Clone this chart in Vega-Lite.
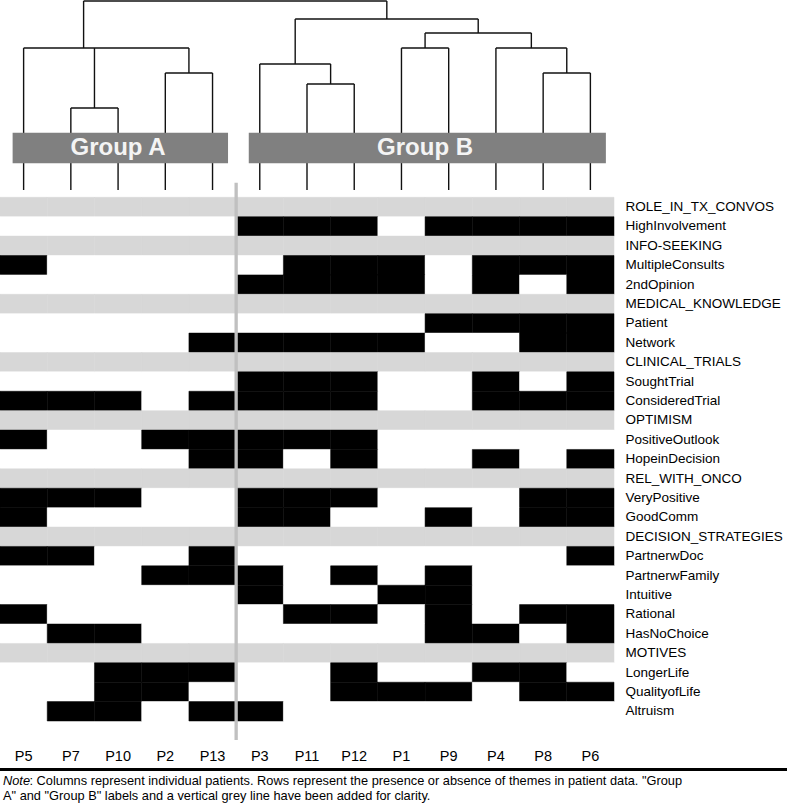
{
"$schema": "https://vega.github.io/schema/vega-lite/v6.json",
"width": 787, "height": 812,
"autosize": {"type": "none"},
"padding": 0,
"background": "white",
"config": {"view": {"stroke": null}, "font": "Liberation Sans"},
"datasets": {
"cells": [
{"p":"P5","t":"ROLE_IN_TX_CONVOS","v":"T"},{"p":"P7","t":"ROLE_IN_TX_CONVOS","v":"T"},{"p":"P10","t":"ROLE_IN_TX_CONVOS","v":"T"},{"p":"P2","t":"ROLE_IN_TX_CONVOS","v":"T"},{"p":"P13","t":"ROLE_IN_TX_CONVOS","v":"T"},{"p":"P3","t":"ROLE_IN_TX_CONVOS","v":"T"},{"p":"P11","t":"ROLE_IN_TX_CONVOS","v":"T"},{"p":"P12","t":"ROLE_IN_TX_CONVOS","v":"T"},{"p":"P1","t":"ROLE_IN_TX_CONVOS","v":"T"},{"p":"P9","t":"ROLE_IN_TX_CONVOS","v":"T"},{"p":"P4","t":"ROLE_IN_TX_CONVOS","v":"T"},{"p":"P8","t":"ROLE_IN_TX_CONVOS","v":"T"},{"p":"P6","t":"ROLE_IN_TX_CONVOS","v":"T"},
{"p":"P5","t":"HighInvolvement","v":"N"},{"p":"P7","t":"HighInvolvement","v":"N"},{"p":"P10","t":"HighInvolvement","v":"N"},{"p":"P2","t":"HighInvolvement","v":"N"},{"p":"P13","t":"HighInvolvement","v":"N"},{"p":"P3","t":"HighInvolvement","v":"Y"},{"p":"P11","t":"HighInvolvement","v":"Y"},{"p":"P12","t":"HighInvolvement","v":"Y"},{"p":"P1","t":"HighInvolvement","v":"N"},{"p":"P9","t":"HighInvolvement","v":"Y"},{"p":"P4","t":"HighInvolvement","v":"Y"},{"p":"P8","t":"HighInvolvement","v":"Y"},{"p":"P6","t":"HighInvolvement","v":"Y"},
{"p":"P5","t":"INFO-SEEKING","v":"T"},{"p":"P7","t":"INFO-SEEKING","v":"T"},{"p":"P10","t":"INFO-SEEKING","v":"T"},{"p":"P2","t":"INFO-SEEKING","v":"T"},{"p":"P13","t":"INFO-SEEKING","v":"T"},{"p":"P3","t":"INFO-SEEKING","v":"T"},{"p":"P11","t":"INFO-SEEKING","v":"T"},{"p":"P12","t":"INFO-SEEKING","v":"T"},{"p":"P1","t":"INFO-SEEKING","v":"T"},{"p":"P9","t":"INFO-SEEKING","v":"T"},{"p":"P4","t":"INFO-SEEKING","v":"T"},{"p":"P8","t":"INFO-SEEKING","v":"T"},{"p":"P6","t":"INFO-SEEKING","v":"T"},
{"p":"P5","t":"MultipleConsults","v":"Y"},{"p":"P7","t":"MultipleConsults","v":"N"},{"p":"P10","t":"MultipleConsults","v":"N"},{"p":"P2","t":"MultipleConsults","v":"N"},{"p":"P13","t":"MultipleConsults","v":"N"},{"p":"P3","t":"MultipleConsults","v":"N"},{"p":"P11","t":"MultipleConsults","v":"Y"},{"p":"P12","t":"MultipleConsults","v":"Y"},{"p":"P1","t":"MultipleConsults","v":"Y"},{"p":"P9","t":"MultipleConsults","v":"N"},{"p":"P4","t":"MultipleConsults","v":"Y"},{"p":"P8","t":"MultipleConsults","v":"Y"},{"p":"P6","t":"MultipleConsults","v":"Y"},
{"p":"P5","t":"2ndOpinion","v":"N"},{"p":"P7","t":"2ndOpinion","v":"N"},{"p":"P10","t":"2ndOpinion","v":"N"},{"p":"P2","t":"2ndOpinion","v":"N"},{"p":"P13","t":"2ndOpinion","v":"N"},{"p":"P3","t":"2ndOpinion","v":"Y"},{"p":"P11","t":"2ndOpinion","v":"Y"},{"p":"P12","t":"2ndOpinion","v":"Y"},{"p":"P1","t":"2ndOpinion","v":"Y"},{"p":"P9","t":"2ndOpinion","v":"N"},{"p":"P4","t":"2ndOpinion","v":"Y"},{"p":"P8","t":"2ndOpinion","v":"N"},{"p":"P6","t":"2ndOpinion","v":"Y"},
{"p":"P5","t":"MEDICAL_KNOWLEDGE","v":"T"},{"p":"P7","t":"MEDICAL_KNOWLEDGE","v":"T"},{"p":"P10","t":"MEDICAL_KNOWLEDGE","v":"T"},{"p":"P2","t":"MEDICAL_KNOWLEDGE","v":"T"},{"p":"P13","t":"MEDICAL_KNOWLEDGE","v":"T"},{"p":"P3","t":"MEDICAL_KNOWLEDGE","v":"T"},{"p":"P11","t":"MEDICAL_KNOWLEDGE","v":"T"},{"p":"P12","t":"MEDICAL_KNOWLEDGE","v":"T"},{"p":"P1","t":"MEDICAL_KNOWLEDGE","v":"T"},{"p":"P9","t":"MEDICAL_KNOWLEDGE","v":"T"},{"p":"P4","t":"MEDICAL_KNOWLEDGE","v":"T"},{"p":"P8","t":"MEDICAL_KNOWLEDGE","v":"T"},{"p":"P6","t":"MEDICAL_KNOWLEDGE","v":"T"},
{"p":"P5","t":"Patient","v":"N"},{"p":"P7","t":"Patient","v":"N"},{"p":"P10","t":"Patient","v":"N"},{"p":"P2","t":"Patient","v":"N"},{"p":"P13","t":"Patient","v":"N"},{"p":"P3","t":"Patient","v":"N"},{"p":"P11","t":"Patient","v":"N"},{"p":"P12","t":"Patient","v":"N"},{"p":"P1","t":"Patient","v":"N"},{"p":"P9","t":"Patient","v":"Y"},{"p":"P4","t":"Patient","v":"Y"},{"p":"P8","t":"Patient","v":"Y"},{"p":"P6","t":"Patient","v":"Y"},
{"p":"P5","t":"Network","v":"N"},{"p":"P7","t":"Network","v":"N"},{"p":"P10","t":"Network","v":"N"},{"p":"P2","t":"Network","v":"N"},{"p":"P13","t":"Network","v":"Y"},{"p":"P3","t":"Network","v":"Y"},{"p":"P11","t":"Network","v":"Y"},{"p":"P12","t":"Network","v":"Y"},{"p":"P1","t":"Network","v":"Y"},{"p":"P9","t":"Network","v":"N"},{"p":"P4","t":"Network","v":"N"},{"p":"P8","t":"Network","v":"Y"},{"p":"P6","t":"Network","v":"Y"},
{"p":"P5","t":"CLINICAL_TRIALS","v":"T"},{"p":"P7","t":"CLINICAL_TRIALS","v":"T"},{"p":"P10","t":"CLINICAL_TRIALS","v":"T"},{"p":"P2","t":"CLINICAL_TRIALS","v":"T"},{"p":"P13","t":"CLINICAL_TRIALS","v":"T"},{"p":"P3","t":"CLINICAL_TRIALS","v":"T"},{"p":"P11","t":"CLINICAL_TRIALS","v":"T"},{"p":"P12","t":"CLINICAL_TRIALS","v":"T"},{"p":"P1","t":"CLINICAL_TRIALS","v":"T"},{"p":"P9","t":"CLINICAL_TRIALS","v":"T"},{"p":"P4","t":"CLINICAL_TRIALS","v":"T"},{"p":"P8","t":"CLINICAL_TRIALS","v":"T"},{"p":"P6","t":"CLINICAL_TRIALS","v":"T"},
{"p":"P5","t":"SoughtTrial","v":"N"},{"p":"P7","t":"SoughtTrial","v":"N"},{"p":"P10","t":"SoughtTrial","v":"N"},{"p":"P2","t":"SoughtTrial","v":"N"},{"p":"P13","t":"SoughtTrial","v":"N"},{"p":"P3","t":"SoughtTrial","v":"Y"},{"p":"P11","t":"SoughtTrial","v":"Y"},{"p":"P12","t":"SoughtTrial","v":"Y"},{"p":"P1","t":"SoughtTrial","v":"N"},{"p":"P9","t":"SoughtTrial","v":"N"},{"p":"P4","t":"SoughtTrial","v":"Y"},{"p":"P8","t":"SoughtTrial","v":"N"},{"p":"P6","t":"SoughtTrial","v":"Y"},
{"p":"P5","t":"ConsideredTrial","v":"Y"},{"p":"P7","t":"ConsideredTrial","v":"Y"},{"p":"P10","t":"ConsideredTrial","v":"Y"},{"p":"P2","t":"ConsideredTrial","v":"N"},{"p":"P13","t":"ConsideredTrial","v":"Y"},{"p":"P3","t":"ConsideredTrial","v":"Y"},{"p":"P11","t":"ConsideredTrial","v":"Y"},{"p":"P12","t":"ConsideredTrial","v":"Y"},{"p":"P1","t":"ConsideredTrial","v":"N"},{"p":"P9","t":"ConsideredTrial","v":"N"},{"p":"P4","t":"ConsideredTrial","v":"Y"},{"p":"P8","t":"ConsideredTrial","v":"Y"},{"p":"P6","t":"ConsideredTrial","v":"Y"},
{"p":"P5","t":"OPTIMISM","v":"T"},{"p":"P7","t":"OPTIMISM","v":"T"},{"p":"P10","t":"OPTIMISM","v":"T"},{"p":"P2","t":"OPTIMISM","v":"T"},{"p":"P13","t":"OPTIMISM","v":"T"},{"p":"P3","t":"OPTIMISM","v":"T"},{"p":"P11","t":"OPTIMISM","v":"T"},{"p":"P12","t":"OPTIMISM","v":"T"},{"p":"P1","t":"OPTIMISM","v":"T"},{"p":"P9","t":"OPTIMISM","v":"T"},{"p":"P4","t":"OPTIMISM","v":"T"},{"p":"P8","t":"OPTIMISM","v":"T"},{"p":"P6","t":"OPTIMISM","v":"T"},
{"p":"P5","t":"PositiveOutlook","v":"Y"},{"p":"P7","t":"PositiveOutlook","v":"N"},{"p":"P10","t":"PositiveOutlook","v":"N"},{"p":"P2","t":"PositiveOutlook","v":"Y"},{"p":"P13","t":"PositiveOutlook","v":"Y"},{"p":"P3","t":"PositiveOutlook","v":"Y"},{"p":"P11","t":"PositiveOutlook","v":"Y"},{"p":"P12","t":"PositiveOutlook","v":"Y"},{"p":"P1","t":"PositiveOutlook","v":"N"},{"p":"P9","t":"PositiveOutlook","v":"N"},{"p":"P4","t":"PositiveOutlook","v":"N"},{"p":"P8","t":"PositiveOutlook","v":"N"},{"p":"P6","t":"PositiveOutlook","v":"N"},
{"p":"P5","t":"HopeinDecision","v":"N"},{"p":"P7","t":"HopeinDecision","v":"N"},{"p":"P10","t":"HopeinDecision","v":"N"},{"p":"P2","t":"HopeinDecision","v":"N"},{"p":"P13","t":"HopeinDecision","v":"Y"},{"p":"P3","t":"HopeinDecision","v":"Y"},{"p":"P11","t":"HopeinDecision","v":"N"},{"p":"P12","t":"HopeinDecision","v":"Y"},{"p":"P1","t":"HopeinDecision","v":"N"},{"p":"P9","t":"HopeinDecision","v":"N"},{"p":"P4","t":"HopeinDecision","v":"Y"},{"p":"P8","t":"HopeinDecision","v":"N"},{"p":"P6","t":"HopeinDecision","v":"Y"},
{"p":"P5","t":"REL_WITH_ONCO","v":"T"},{"p":"P7","t":"REL_WITH_ONCO","v":"T"},{"p":"P10","t":"REL_WITH_ONCO","v":"T"},{"p":"P2","t":"REL_WITH_ONCO","v":"T"},{"p":"P13","t":"REL_WITH_ONCO","v":"T"},{"p":"P3","t":"REL_WITH_ONCO","v":"T"},{"p":"P11","t":"REL_WITH_ONCO","v":"T"},{"p":"P12","t":"REL_WITH_ONCO","v":"T"},{"p":"P1","t":"REL_WITH_ONCO","v":"T"},{"p":"P9","t":"REL_WITH_ONCO","v":"T"},{"p":"P4","t":"REL_WITH_ONCO","v":"T"},{"p":"P8","t":"REL_WITH_ONCO","v":"T"},{"p":"P6","t":"REL_WITH_ONCO","v":"T"},
{"p":"P5","t":"VeryPositive","v":"Y"},{"p":"P7","t":"VeryPositive","v":"Y"},{"p":"P10","t":"VeryPositive","v":"Y"},{"p":"P2","t":"VeryPositive","v":"N"},{"p":"P13","t":"VeryPositive","v":"N"},{"p":"P3","t":"VeryPositive","v":"Y"},{"p":"P11","t":"VeryPositive","v":"Y"},{"p":"P12","t":"VeryPositive","v":"Y"},{"p":"P1","t":"VeryPositive","v":"N"},{"p":"P9","t":"VeryPositive","v":"N"},{"p":"P4","t":"VeryPositive","v":"N"},{"p":"P8","t":"VeryPositive","v":"Y"},{"p":"P6","t":"VeryPositive","v":"Y"},
{"p":"P5","t":"GoodComm","v":"Y"},{"p":"P7","t":"GoodComm","v":"N"},{"p":"P10","t":"GoodComm","v":"N"},{"p":"P2","t":"GoodComm","v":"N"},{"p":"P13","t":"GoodComm","v":"N"},{"p":"P3","t":"GoodComm","v":"Y"},{"p":"P11","t":"GoodComm","v":"Y"},{"p":"P12","t":"GoodComm","v":"N"},{"p":"P1","t":"GoodComm","v":"N"},{"p":"P9","t":"GoodComm","v":"Y"},{"p":"P4","t":"GoodComm","v":"N"},{"p":"P8","t":"GoodComm","v":"Y"},{"p":"P6","t":"GoodComm","v":"Y"},
{"p":"P5","t":"DECISION_STRATEGIES","v":"T"},{"p":"P7","t":"DECISION_STRATEGIES","v":"T"},{"p":"P10","t":"DECISION_STRATEGIES","v":"T"},{"p":"P2","t":"DECISION_STRATEGIES","v":"T"},{"p":"P13","t":"DECISION_STRATEGIES","v":"T"},{"p":"P3","t":"DECISION_STRATEGIES","v":"T"},{"p":"P11","t":"DECISION_STRATEGIES","v":"T"},{"p":"P12","t":"DECISION_STRATEGIES","v":"T"},{"p":"P1","t":"DECISION_STRATEGIES","v":"T"},{"p":"P9","t":"DECISION_STRATEGIES","v":"T"},{"p":"P4","t":"DECISION_STRATEGIES","v":"T"},{"p":"P8","t":"DECISION_STRATEGIES","v":"T"},{"p":"P6","t":"DECISION_STRATEGIES","v":"T"},
{"p":"P5","t":"PartnerwDoc","v":"Y"},{"p":"P7","t":"PartnerwDoc","v":"Y"},{"p":"P10","t":"PartnerwDoc","v":"N"},{"p":"P2","t":"PartnerwDoc","v":"N"},{"p":"P13","t":"PartnerwDoc","v":"Y"},{"p":"P3","t":"PartnerwDoc","v":"N"},{"p":"P11","t":"PartnerwDoc","v":"N"},{"p":"P12","t":"PartnerwDoc","v":"N"},{"p":"P1","t":"PartnerwDoc","v":"N"},{"p":"P9","t":"PartnerwDoc","v":"N"},{"p":"P4","t":"PartnerwDoc","v":"N"},{"p":"P8","t":"PartnerwDoc","v":"N"},{"p":"P6","t":"PartnerwDoc","v":"Y"},
{"p":"P5","t":"PartnerwFamily","v":"N"},{"p":"P7","t":"PartnerwFamily","v":"N"},{"p":"P10","t":"PartnerwFamily","v":"N"},{"p":"P2","t":"PartnerwFamily","v":"Y"},{"p":"P13","t":"PartnerwFamily","v":"Y"},{"p":"P3","t":"PartnerwFamily","v":"Y"},{"p":"P11","t":"PartnerwFamily","v":"N"},{"p":"P12","t":"PartnerwFamily","v":"Y"},{"p":"P1","t":"PartnerwFamily","v":"N"},{"p":"P9","t":"PartnerwFamily","v":"Y"},{"p":"P4","t":"PartnerwFamily","v":"N"},{"p":"P8","t":"PartnerwFamily","v":"N"},{"p":"P6","t":"PartnerwFamily","v":"N"},
{"p":"P5","t":"Intuitive","v":"N"},{"p":"P7","t":"Intuitive","v":"N"},{"p":"P10","t":"Intuitive","v":"N"},{"p":"P2","t":"Intuitive","v":"N"},{"p":"P13","t":"Intuitive","v":"N"},{"p":"P3","t":"Intuitive","v":"Y"},{"p":"P11","t":"Intuitive","v":"N"},{"p":"P12","t":"Intuitive","v":"N"},{"p":"P1","t":"Intuitive","v":"Y"},{"p":"P9","t":"Intuitive","v":"Y"},{"p":"P4","t":"Intuitive","v":"N"},{"p":"P8","t":"Intuitive","v":"N"},{"p":"P6","t":"Intuitive","v":"N"},
{"p":"P5","t":"Rational","v":"Y"},{"p":"P7","t":"Rational","v":"N"},{"p":"P10","t":"Rational","v":"N"},{"p":"P2","t":"Rational","v":"N"},{"p":"P13","t":"Rational","v":"N"},{"p":"P3","t":"Rational","v":"N"},{"p":"P11","t":"Rational","v":"Y"},{"p":"P12","t":"Rational","v":"Y"},{"p":"P1","t":"Rational","v":"N"},{"p":"P9","t":"Rational","v":"Y"},{"p":"P4","t":"Rational","v":"N"},{"p":"P8","t":"Rational","v":"Y"},{"p":"P6","t":"Rational","v":"Y"},
{"p":"P5","t":"HasNoChoice","v":"N"},{"p":"P7","t":"HasNoChoice","v":"Y"},{"p":"P10","t":"HasNoChoice","v":"Y"},{"p":"P2","t":"HasNoChoice","v":"N"},{"p":"P13","t":"HasNoChoice","v":"N"},{"p":"P3","t":"HasNoChoice","v":"N"},{"p":"P11","t":"HasNoChoice","v":"N"},{"p":"P12","t":"HasNoChoice","v":"N"},{"p":"P1","t":"HasNoChoice","v":"N"},{"p":"P9","t":"HasNoChoice","v":"Y"},{"p":"P4","t":"HasNoChoice","v":"Y"},{"p":"P8","t":"HasNoChoice","v":"N"},{"p":"P6","t":"HasNoChoice","v":"Y"},
{"p":"P5","t":"MOTIVES","v":"T"},{"p":"P7","t":"MOTIVES","v":"T"},{"p":"P10","t":"MOTIVES","v":"T"},{"p":"P2","t":"MOTIVES","v":"T"},{"p":"P13","t":"MOTIVES","v":"T"},{"p":"P3","t":"MOTIVES","v":"T"},{"p":"P11","t":"MOTIVES","v":"T"},{"p":"P12","t":"MOTIVES","v":"T"},{"p":"P1","t":"MOTIVES","v":"T"},{"p":"P9","t":"MOTIVES","v":"T"},{"p":"P4","t":"MOTIVES","v":"T"},{"p":"P8","t":"MOTIVES","v":"T"},{"p":"P6","t":"MOTIVES","v":"T"},
{"p":"P5","t":"LongerLife","v":"N"},{"p":"P7","t":"LongerLife","v":"N"},{"p":"P10","t":"LongerLife","v":"Y"},{"p":"P2","t":"LongerLife","v":"Y"},{"p":"P13","t":"LongerLife","v":"Y"},{"p":"P3","t":"LongerLife","v":"N"},{"p":"P11","t":"LongerLife","v":"N"},{"p":"P12","t":"LongerLife","v":"Y"},{"p":"P1","t":"LongerLife","v":"N"},{"p":"P9","t":"LongerLife","v":"N"},{"p":"P4","t":"LongerLife","v":"Y"},{"p":"P8","t":"LongerLife","v":"Y"},{"p":"P6","t":"LongerLife","v":"N"},
{"p":"P5","t":"QualityofLife","v":"N"},{"p":"P7","t":"QualityofLife","v":"N"},{"p":"P10","t":"QualityofLife","v":"Y"},{"p":"P2","t":"QualityofLife","v":"Y"},{"p":"P13","t":"QualityofLife","v":"N"},{"p":"P3","t":"QualityofLife","v":"N"},{"p":"P11","t":"QualityofLife","v":"N"},{"p":"P12","t":"QualityofLife","v":"Y"},{"p":"P1","t":"QualityofLife","v":"Y"},{"p":"P9","t":"QualityofLife","v":"Y"},{"p":"P4","t":"QualityofLife","v":"N"},{"p":"P8","t":"QualityofLife","v":"Y"},{"p":"P6","t":"QualityofLife","v":"Y"},
{"p":"P5","t":"Altruism","v":"N"},{"p":"P7","t":"Altruism","v":"Y"},{"p":"P10","t":"Altruism","v":"Y"},{"p":"P2","t":"Altruism","v":"N"},{"p":"P13","t":"Altruism","v":"Y"},{"p":"P3","t":"Altruism","v":"Y"},{"p":"P11","t":"Altruism","v":"N"},{"p":"P12","t":"Altruism","v":"N"},{"p":"P1","t":"Altruism","v":"N"},{"p":"P9","t":"Altruism","v":"N"},{"p":"P4","t":"Altruism","v":"N"},{"p":"P8","t":"Altruism","v":"N"},{"p":"P6","t":"Altruism","v":"N"}
],
"dendro": [
{"x1":1,"x2":1,"h1":0,"h2":7.51},{"x1":2,"x2":2,"h1":0,"h2":4.34},{"x1":3,"x2":3,"h1":0,"h2":4.34},{"x1":4,"x2":4,"h1":0,"h2":6.19},{"x1":5,"x2":5,"h1":0,"h2":6.19},
{"x1":6,"x2":6,"h1":0,"h2":6.67},{"x1":7,"x2":7,"h1":0,"h2":5.61},{"x1":8,"x2":8,"h1":0,"h2":5.61},{"x1":9,"x2":9,"h1":0,"h2":7.51},{"x1":10,"x2":10,"h1":0,"h2":7.51},
{"x1":11,"x2":11,"h1":0,"h2":7.51},{"x1":12,"x2":12,"h1":0,"h2":6.19},{"x1":13,"x2":13,"h1":0,"h2":6.19},
{"x1":2,"x2":3,"h1":4.34,"h2":4.34},{"x1":4,"x2":5,"h1":6.19,"h2":6.19},{"x1":7,"x2":8,"h1":5.61,"h2":5.61},{"x1":12,"x2":13,"h1":6.19,"h2":6.19},
{"x1":9,"x2":10,"h1":7.51,"h2":7.51},{"x1":11,"x2":12.5,"h1":7.51,"h2":7.51},{"x1":1,"x2":4.5,"h1":7.51,"h2":7.51},{"x1":6,"x2":7.5,"h1":6.67,"h2":6.67},
{"x1":9.5,"x2":11.75,"h1":8.31,"h2":8.31},{"x1":6.75,"x2":10.625,"h1":9.05,"h2":9.05},{"x1":2.27,"x2":8.69,"h1":10,"h2":10},
{"x1":2.5,"x2":2.5,"h1":4.34,"h2":7.51},{"x1":4.5,"x2":4.5,"h1":6.19,"h2":7.51},{"x1":7.5,"x2":7.5,"h1":5.61,"h2":6.67},{"x1":12.5,"x2":12.5,"h1":6.19,"h2":7.51},
{"x1":9.5,"x2":9.5,"h1":7.51,"h2":8.31},{"x1":11.75,"x2":11.75,"h1":7.51,"h2":8.31},{"x1":6.75,"x2":6.75,"h1":6.67,"h2":9.05},{"x1":10.625,"x2":10.625,"h1":8.31,"h2":9.05},
{"x1":2.27,"x2":2.27,"h1":7.51,"h2":10},{"x1":8.69,"x2":8.69,"h1":9.05,"h2":10}
],
"groups": [
{"group":"Group A","first":1,"last":5},
{"group":"Group B","first":6,"last":13}
]
},
"layer": [
{
"data": {"name": "cells"},
"mark": {"type": "rect", "strokeWidth": 0.5},
"encoding": {
"x": {"field": "p", "type": "nominal",
 "scale": {"domain": ["P5","P7","P10","P2","P13","P3","P11","P12","P1","P9","P4","P8","P6"], "range": [0, 614], "paddingInner": 0, "paddingOuter": 0},
 "axis": {"orient": "bottom", "offset": -63, "title": null, "ticks": false, "tickSize": 0, "domain": false, "grid": false, "labelPadding": 0, "labelAngle": 0, "labelFontSize": 14.5, "labelFont": "Liberation Sans", "labelColor": "#000000"}},
"y": {"field": "t", "type": "nominal",
 "scale": {"domain": ["ROLE_IN_TX_CONVOS","HighInvolvement","INFO-SEEKING","MultipleConsults","2ndOpinion","MEDICAL_KNOWLEDGE","Patient","Network","CLINICAL_TRIALS","SoughtTrial","ConsideredTrial","OPTIMISM","PositiveOutlook","HopeinDecision","REL_WITH_ONCO","VeryPositive","GoodComm","DECISION_STRATEGIES","PartnerwDoc","PartnerwFamily","Intuitive","Rational","HasNoChoice","MOTIVES","LongerLife","QualityofLife","Altruism"], "range": [197.3, 721], "paddingInner": 0, "paddingOuter": 0},
 "axis": {"orient": "right", "offset": -162, "title": null, "ticks": false, "tickSize": 0, "domain": false, "grid": false, "labelPadding": 0, "labelAlign": "left", "labelFontSize": 13.5, "labelFont": "Liberation Sans", "labelColor": "#000000", "labelOverlap": false}},
"color": {"field": "v", "type": "nominal", "scale": {"domain": ["Y","N","T"], "range": ["#000000","#ffffff","#d7d7d7"]}, "legend": null},
"stroke": {"field": "v", "type": "nominal", "scale": {"domain": ["Y","N","T"], "range": ["#000000","#ffffff","#d7d7d7"]}, "legend": null}
}
},
{
"data": {"name": "dendro"},
"mark": {"type": "rule", "color": "#111111", "strokeWidth": 1.4},
"encoding": {
"x": {"field": "x1", "type": "quantitative", "scale": {"domain": [0.5, 13.5], "range": [0, 614]}, "axis": null},
"x2": {"field": "x2"},
"y": {"field": "h1", "type": "quantitative", "scale": {"domain": [0, 10], "range": [190, 1]}, "axis": null},
"y2": {"field": "h2"}
}
},
{
"data": {"name": "groups"},
"transform": [{"calculate": "(datum.first + datum.last) / 2", "as": "mid"}],
"layer": [
{
"mark": {"type": "rect", "color": "#808080", "xOffset": -11, "x2Offset": 15.5},
"encoding": {
"x": {"field": "first", "type": "quantitative", "scale": {"domain": [0.5, 13.5], "range": [0, 614]}, "axis": null},
"x2": {"field": "last"},
"y": {"datum": 3.03, "type": "quantitative", "scale": {"domain": [0, 10], "range": [190, 1]}, "axis": null},
"y2": {"datum": 1.41}
}
},
{
"mark": {"type": "text", "color": "#f4f4f4", "fontSize": 24, "fontWeight": "bold", "font": "Liberation Sans", "align": "center", "baseline": "alphabetic"},
"encoding": {
"x": {"field": "mid", "type": "quantitative", "scale": {"domain": [0.5, 13.5], "range": [0, 614]}, "axis": null},
"y": {"datum": 1.83, "type": "quantitative", "scale": {"domain": [0, 10], "range": [190, 1]}, "axis": null},
"text": {"field": "group"}
}
}
]
},
{
"data": {"values": [{"divider": "Group A | Group B"}]},
"mark": {"type": "rule", "color": "#c0c0c0", "strokeWidth": 3.3},
"encoding": {
"x": {"datum": 5.5, "type": "quantitative", "scale": {"domain": [0.5, 13.5], "range": [0, 614]}, "axis": null},
"y": {"datum": 0.39, "type": "quantitative", "scale": {"domain": [0, 10], "range": [190, 1]}, "axis": null},
"y2": {"datum": -29.1}
}
},
{
"data": {"values": [{"footer": "rule"}]},
"mark": {"type": "rule", "color": "#000000", "strokeWidth": 3},
"encoding": {
"x": {"datum": 0.5, "type": "quantitative", "scale": {"domain": [0.5, 13.5], "range": [0, 614]}, "axis": null},
"x2": {"datum": 17.2},
"y": {"datum": -30.66, "type": "quantitative", "scale": {"domain": [0, 10], "range": [190, 1]}, "axis": null}
}
},
{
"data": {"values": [{"txt": "Note"}]},
"mark": {"type": "text", "fontStyle": "italic", "fontSize": 12.8, "font": "Liberation Sans", "align": "left", "baseline": "alphabetic", "dx": 3, "color": "#000000"},
"encoding": {
"x": {"datum": 0.5, "type": "quantitative", "scale": {"domain": [0.5, 13.5], "range": [0, 614]}, "axis": null},
"y": {"datum": -31.48, "type": "quantitative", "scale": {"domain": [0, 10], "range": [190, 1]}, "axis": null},
"text": {"field": "txt"}
}
},
{
"data": {"values": [{"txt": ": Columns represent individual patients. Rows represent the presence or absence of themes in patient data. \"Group"}]},
"mark": {"type": "text", "fontSize": 12.8, "font": "Liberation Sans", "align": "left", "baseline": "alphabetic", "dx": 29.5, "color": "#000000"},
"encoding": {
"x": {"datum": 0.5, "type": "quantitative", "scale": {"domain": [0.5, 13.5], "range": [0, 614]}, "axis": null},
"y": {"datum": -31.48, "type": "quantitative", "scale": {"domain": [0, 10], "range": [190, 1]}, "axis": null},
"text": {"field": "txt"}
}
},
{
"data": {"values": [{"txt": "A\" and \"Group B\" labels and a vertical grey line have been added for clarity."}]},
"mark": {"type": "text", "fontSize": 12.8, "font": "Liberation Sans", "align": "left", "baseline": "alphabetic", "dx": 3, "color": "#000000"},
"encoding": {
"x": {"datum": 0.5, "type": "quantitative", "scale": {"domain": [0.5, 13.5], "range": [0, 614]}, "axis": null},
"y": {"datum": -32.3, "type": "quantitative", "scale": {"domain": [0, 10], "range": [190, 1]}, "axis": null},
"text": {"field": "txt"}
}
}
],
"resolve": {"scale": {"x": "independent", "y": "independent", "color": "independent", "stroke": "independent"}}
}
